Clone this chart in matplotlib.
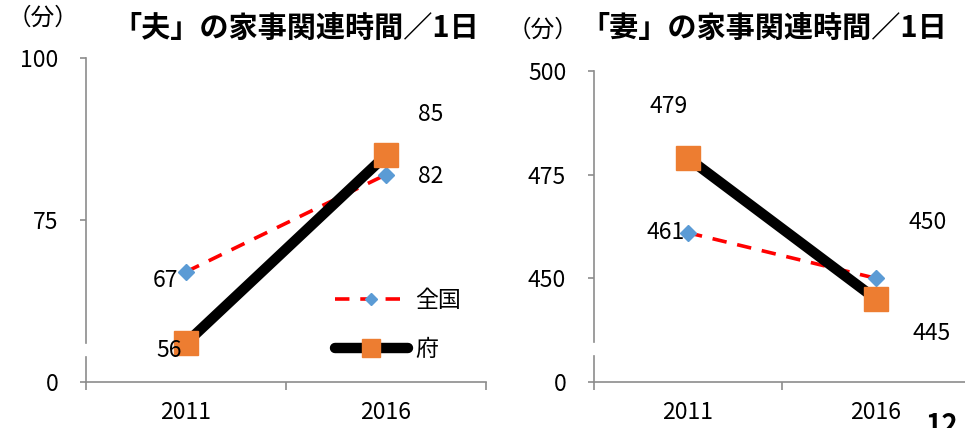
import matplotlib
matplotlib.use("Agg")
import matplotlib.pyplot as plt

plt.rcParams['font.family'] = ['Noto Sans CJK JP', 'DejaVu Sans']

# data
years = ['2011', '2016']
husband_nation = [67, 82]   # 全国
husband_pref = [56, 85]     # 府
wife_nation = [461, 450]
wife_pref = [479, 445]

series_labels = ['全国', '府']
titles = ['「夫」の家事関連時間／1日', '「妻」の家事関連時間／1日']
unit = '（分）'

# broken axis: bottom of axis labelled 0
y_ranges = [(50, 100), (425, 500)]
y_ticks = [[50, 75, 100], [425, 450, 475, 500]]
y_ticklabels = [['0', '75', '100'], ['0', '450', '475', '500']]

AX_COLOR = '#8c8c8c'
RED = '#ff0000'
BLUE = '#5b9bd5'
ORANGE = '#ed7d31'

W, H = 965, 428
fig = plt.figure(figsize=(W / 100, H / 100), dpi=100)

def px_box(left, bottom, top, right):
    return [left / W, (H - bottom) / H, (right - left) / W, (bottom - top) / H]

ax1 = fig.add_axes(px_box(86, 382, 58, 486))
ax2 = fig.add_axes(px_box(594, 382, 71, 970))

x = [0, 1]

def style_axis(ax, yr, yt, ytl, gap):
    ax.set_xlim(-0.5, 1.5)
    ax.set_ylim(*yr)
    for s in ['top', 'right', 'left']:
        ax.spines[s].set_visible(False)
    ax.spines['bottom'].set_color(AX_COLOR)
    ax.spines['bottom'].set_linewidth(1.2)
    # broken y axis drawn as two pieces
    ax.plot([0, 0], [0, gap[0]], transform=ax.transAxes, color=AX_COLOR,
            lw=1.2, clip_on=False, zorder=1)
    ax.plot([0, 0], [gap[1], 1], transform=ax.transAxes, color=AX_COLOR,
            lw=1.2, clip_on=False, zorder=1)
    ax.set_yticks(yt)
    ax.set_yticklabels(ytl)
    ax.tick_params(axis='y', length=4, width=1.2, color=AX_COLOR,
                   labelsize=16.5, pad=16)
    ax.set_xticks([-0.5, 0.5, 1.5])
    ax.set_xticklabels([])
    ax.set_xticks(x, minor=True)
    ax.set_xticklabels(years, minor=True)
    ax.tick_params(axis='x', which='major', length=6, width=1.2,
                   color=AX_COLOR, direction='out')
    ax.tick_params(axis='x', which='minor', length=0, labelsize=16.5, pad=14)
    ax.patch.set_alpha(0)

style_axis(ax1, y_ranges[0], y_ticks[0], y_ticklabels[0], (0.077, 0.120))
style_axis(ax2, y_ranges[1], y_ticks[1], y_ticklabels[1], (0.084, 0.129))

for ax, nat, pref in [(ax1, husband_nation, husband_pref),
                      (ax2, wife_nation, wife_pref)]:
    ax.plot(x, nat, color=RED, lw=2.6, dashes=(4, 3), marker='D', ms=8,
            mfc=BLUE, mec=BLUE, label=series_labels[0], clip_on=False, zorder=3)
    ax.plot(x, pref, color='black', lw=7.5, marker='s', ms=17,
            mfc=ORANGE, mec=ORANGE, label=series_labels[1], clip_on=False,
            solid_capstyle='round', zorder=4)

# data labels (offsets in points)
def lab(ax, xi, yi, dx, dy):
    ax.annotate(str(yi), (xi, yi), xytext=(dx, dy), textcoords='offset points',
                ha='center', va='center', fontsize=16.5, zorder=5)

lab(ax1, 0, husband_nation[0], -15, -6)
lab(ax1, 1, husband_nation[1], 32, -1)
lab(ax1, 0, husband_pref[0], -12, -5)
lab(ax1, 1, husband_pref[1], 32, 29)
lab(ax2, 0, wife_nation[0], -16, 0)
lab(ax2, 1, wife_nation[1], 37, 40)
lab(ax2, 0, wife_pref[0], -14, 37)
lab(ax2, 1, wife_pref[1], 40, -25)

leg = ax1.legend(loc='upper left', bbox_to_anchor=(314 / W, 1 - 268 / H),
                 bbox_transform=fig.transFigure, frameon=False, fontsize=16.5,
                 handlelength=3.2, labelspacing=1.15, handletextpad=0.3,
                 markerscale=0.75)

# titles and units
fig.text(8 / W, 1 - 18 / H, unit, fontsize=17, va='center', ha='left')
fig.text(112 / W, 1 - 28 / H, titles[0], fontsize=21, fontweight='bold',
         va='center', ha='left')
fig.text(508 / W, 1 - 30 / H, unit, fontsize=17, va='center', ha='left')
fig.text(580 / W, 1 - 28 / H, titles[1], fontsize=21, fontweight='bold',
         va='center', ha='left')

# page number, cut by the edge
fig.text(926 / W, 1 - 412 / H, '12', fontsize=20, fontweight='bold',
         va='top', ha='left')

fig.savefig('out.png', dpi=100)
